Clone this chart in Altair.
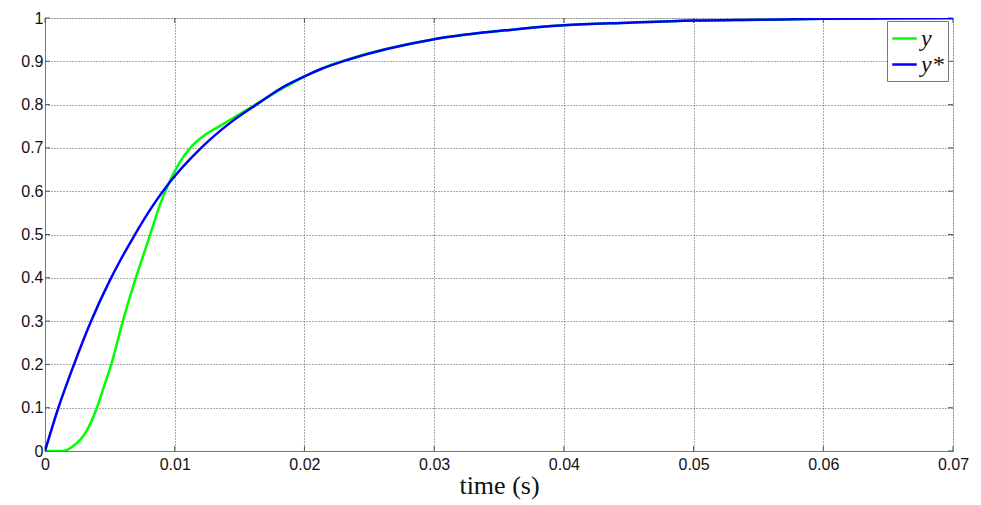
import altair as alt
import pandas as pd

t_blue = [0, 0.001, 0.0022, 0.0035, 0.005, 0.0058, 0.0068, 0.0083, 0.0096, 0.012,
          0.0145, 0.0166, 0.0181, 0.020, 0.0212, 0.0233, 0.030, 0.036, 0.040, 0.045,
          0.050, 0.055, 0.060, 0.065, 0.070]
y_blue = [0, 0.097, 0.197, 0.296, 0.394, 0.440, 0.493, 0.566, 0.620, 0.699,
          0.763, 0.806, 0.836, 0.865, 0.881, 0.903, 0.951, 0.973, 0.983, 0.989,
          0.994, 0.996, 0.998, 0.999, 0.9995]

t_green = [0, 0.0014, 0.0022, 0.0032, 0.004, 0.0046, 0.0051, 0.006, 0.007, 0.0075,
           0.008, 0.0089, 0.0096, 0.0104, 0.0112, 0.0122, 0.0135, 0.015, 0.0166, 0.0186,
           0.0212, 0.0233, 0.030, 0.036, 0.040, 0.045, 0.050, 0.055, 0.060, 0.064]
y_green = [0, 0, 0.012, 0.046, 0.1, 0.154, 0.199, 0.3, 0.4, 0.445,
           0.49, 0.572, 0.622, 0.667, 0.700, 0.727, 0.751, 0.778, 0.807, 0.842,
           0.882, 0.904, 0.951, 0.973, 0.983, 0.989, 0.994, 0.996, 0.998, 0.999]

series_names = ["y", "y*"]
series_colors = ["#00ff00", "#0000ff"]

x_ticks = [0, 0.01, 0.02, 0.03, 0.04, 0.05, 0.06, 0.07]
y_ticks = [0, 0.1, 0.2, 0.3, 0.4, 0.5, 0.6, 0.7, 0.8, 0.9, 1]

df = pd.concat([
    pd.DataFrame({"t": t_green, "v": y_green, "s": series_names[0], "o": 0}),
    pd.DataFrame({"t": t_blue, "v": y_blue, "s": series_names[1], "o": 1}),
])

W, H = 908, 433
grid_color = "#555555"

xs = alt.Scale(domain=[0, 0.07], nice=False, zero=False)
ys = alt.Scale(domain=[0, 1], nice=False, zero=False)

lines = alt.Chart(df).mark_line(strokeWidth=2.5, clip=True, interpolate="monotone").encode(
    x=alt.X("t:Q", scale=xs,
            axis=alt.Axis(values=x_ticks, title="time (s)", format="~g",
                          grid=True, gridDash=[1, 2], gridColor=grid_color, gridOpacity=1,
                          ticks=False, labelPadding=5, labelFont="Liberation Sans",
                          labelFontSize=16, labelColor="#111",
                          titleFont="Liberation Serif", titleFontSize=26,
                          titleFontWeight="normal", titlePadding=0, titleColor="#111",
                          domainColor="#777", labelFlush=False)),
    y=alt.Y("v:Q", scale=ys,
            axis=alt.Axis(values=y_ticks, title=None, format="~g",
                          grid=True, gridDash=[1, 2], gridColor=grid_color, gridOpacity=1,
                          ticks=False, labelPadding=2, labelFont="Liberation Sans",
                          labelFontSize=16, labelColor="#111",
                          domainColor="#777", labelFlush=False)),
    color=alt.Color("s:N", scale=alt.Scale(domain=series_names, range=series_colors),
                    legend=alt.Legend(title=None, orient="none", legendX=842, legendY=3,
                                      symbolType="stroke", symbolSize=600,
                                      symbolStrokeWidth=2.5, labelFont="Liberation Serif",
                                      labelFontStyle="italic", labelFontSize=24,
                                      labelColor="#111", rowPadding=0, labelOffset=3,
                                      padding=4, strokeColor="#777", fillColor="white",
                                      cornerRadius=0)),
    order="o:Q",
)

tick_df = pd.DataFrame({"t": x_ticks})
ytick_df = pd.DataFrame({"v": y_ticks})
xt_bot = alt.Chart(tick_df).mark_rule(color="#555").encode(
    x=alt.X("t:Q", scale=xs), y=alt.value(H), y2=alt.value(H - 5))
xt_top = alt.Chart(tick_df).mark_rule(color="#555").encode(
    x=alt.X("t:Q", scale=xs), y=alt.value(0), y2=alt.value(5))
yt_l = alt.Chart(ytick_df).mark_rule(color="#555").encode(
    y=alt.Y("v:Q", scale=ys), x=alt.value(0), x2=alt.value(5))
yt_r = alt.Chart(ytick_df).mark_rule(color="#555").encode(
    y=alt.Y("v:Q", scale=ys), x=alt.value(W), x2=alt.value(W - 5))

chart = alt.layer(xt_bot, xt_top, yt_l, yt_r, lines).properties(
    width=W, height=H,
    padding={"left": 37, "top": 10, "right": 20, "bottom": 50},
    autosize=alt.AutoSizeParams(type="none"),
).configure_view(stroke="#777", strokeWidth=1).configure(background="white")

chart.save("out.html", embed_options={"renderer": "svg", "actions": False})
